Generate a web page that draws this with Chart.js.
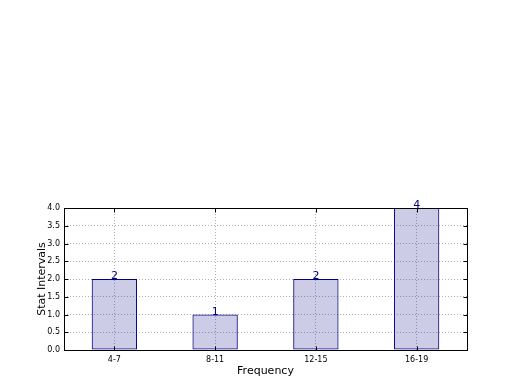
<!DOCTYPE html>
<html>
<head>
<meta charset="utf-8">
<script src="https://cdn.jsdelivr.net/npm/chart.js@4/dist/chart.umd.min.js"></script>
<style>
  html, body { margin: 0; padding: 0; background: #fff; }
  #wrap { width: 520px; height: 390px; }
</style>
</head>
<body>
<div id="wrap"><canvas id="chart" width="520" height="390"></canvas></div>
<script>
// ===== Data =====
const intervals = ['4-7', '8-11', '12-15', '16-19'];
const counts = [2, 1, 2, 4];
const yTicks = [0, 0.5, 1, 1.5, 2, 2.5, 3, 3.5, 4];

const fontFam = "'DejaVu Sans', sans-serif";

// frame around the axes, inward tick marks, count labels on top of bars
const framePlugin = {
  id: 'frame',
  afterDraw(chart) {
    const { ctx, chartArea: a, scales } = chart;
    ctx.save();
    ctx.strokeStyle = '#000';
    ctx.lineWidth = 1;
    const L = Math.round(a.left) + 0.5, R = Math.round(a.right) + 0.5;
    const T = Math.round(a.top) + 0.5, B = Math.round(a.bottom) + 0.5;
    ctx.strokeRect(L, T, R - L, B - T);

    ctx.beginPath();
    scales.y.ticks.forEach(t => {
      const y = Math.round(scales.y.getPixelForValue(t.value)) + 0.5;
      ctx.moveTo(L, y); ctx.lineTo(L + 4, y);
      ctx.moveTo(R, y); ctx.lineTo(R - 4, y);
    });
    intervals.forEach((_, i) => {
      const x = Math.round(scales.x.getPixelForValue(i)) + 0.5;
      ctx.moveTo(x, B); ctx.lineTo(x, B - 4);
      ctx.moveTo(x, T); ctx.lineTo(x, T + 4);
    });
    ctx.stroke();

    ctx.fillStyle = '#000080';
    ctx.font = '11px ' + fontFam;
    ctx.textAlign = 'center';
    ctx.textBaseline = 'bottom';
    chart.getDatasetMeta(0).data.forEach((bar, i) => {
      ctx.fillText(String(counts[i]), bar.x, bar.y + 3);
    });
    ctx.restore();
  }
};

new Chart(document.getElementById('chart'), {
  type: 'bar',
  data: {
    labels: intervals,
    datasets: [{
      data: counts,
      backgroundColor: 'rgba(0,0,128,0.2)',
      borderColor: '#000080',
      borderWidth: 1,
      borderSkipped: false,
      barPercentage: 0.45,
      categoryPercentage: 1
    }]
  },
  options: {
    responsive: false,
    animation: false,
    layout: { padding: { left: 36, right: 53, top: 208, bottom: 12 } },
    plugins: { legend: { display: false }, tooltip: { enabled: false } },
    scales: {
      x: {
        grid: { color: '#b0b0b0', drawTicks: false, offset: false },
        border: { display: false, dash: [1, 2] },
        ticks: { color: '#000', font: { size: 8, family: fontFam }, padding: 5 },
        title: { display: true, text: 'Frequency', color: '#000', font: { size: 11, family: fontFam }, padding: { top: 2, bottom: 0 } },
        afterFit: (s) => { s.height = 28; }
      },
      y: {
        min: 0,
        max: 4,
        afterBuildTicks: (s) => { s.ticks = yTicks.map(v => ({ value: v })); },
        grid: { color: '#b0b0b0', drawTicks: false },
        border: { display: false, dash: [1, 2] },
        ticks: { color: '#000', font: { size: 8, family: fontFam }, padding: 4,
          callback: (v) => Number(v).toFixed(1) },
        title: { display: true, text: 'Stat Intervals', color: '#000', font: { size: 11, family: fontFam }, padding: { top: 0, bottom: 2 } },
        afterFit: (s) => { s.width = 28; }
      }
    }
  },
  plugins: [framePlugin]
});
</script>
</body>
</html>
